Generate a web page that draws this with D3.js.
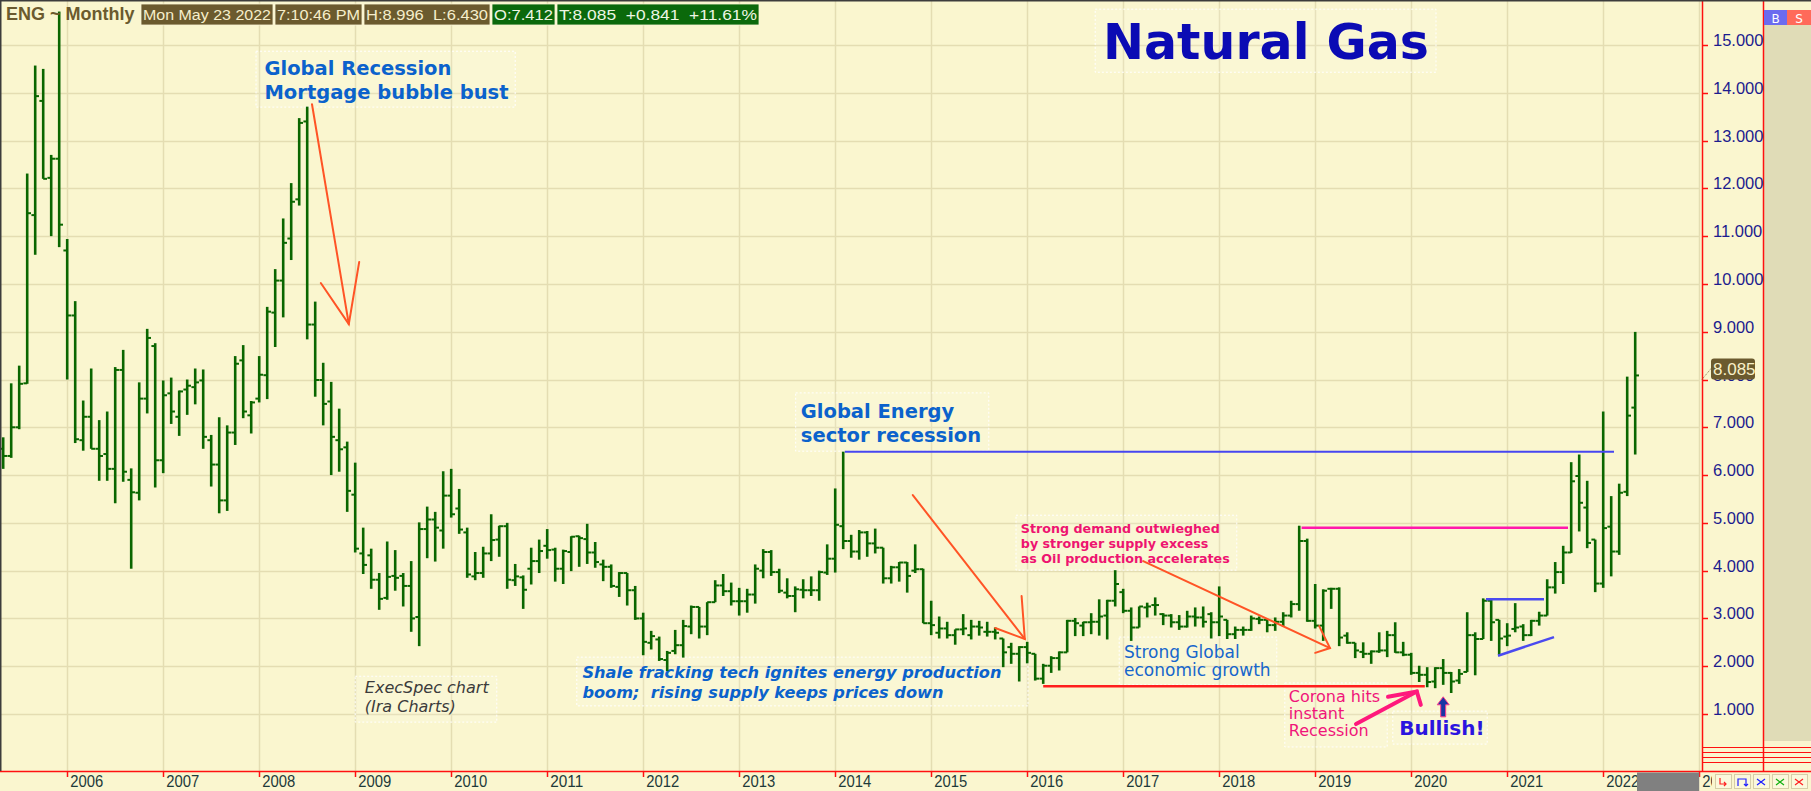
<!DOCTYPE html>
<html>
<head>
<meta charset="utf-8">
<script src="https://cdn.jsdelivr.net/npm/d3@7"></script>
<style>
  html, body { margin: 0; padding: 0; background: #faf6cf; }
  svg { display: block; }
  text { white-space: pre; }
</style>
</head>
<body>
<div id="chart"></div>
<script>
// ENG monthly bars, first bar = May 2005, last bar = May 2022
var firstYear = 2005, firstMonth = 4;

var open = [
  6.55, 6.40, 7.00, 7.92, 11.44, 13.83, 12.22, 12.62,
  10.70, 9.34, 6.73, 7.22, 6.55, 6.44, 6.13, 8.20, 5.90, 5.63, 7.60, 8.70,
  6.31, 7.71, 7.22, 7.79, 7.84, 7.98, 6.73, 6.22, 5.47, 6.89, 8.40, 7.25,
  7.60, 8.09, 9.40, 10.07, 10.95, 11.77, 13.40, 9.15, 7.99, 7.54, 6.73, 6.58,
  5.59, 4.36, 4.32, 3.81, 3.43, 3.89, 3.89, 3.68, 3.03, 4.87, 5.07, 4.84,
  5.57, 5.30, 4.80, 3.88, 3.95, 4.36, 4.65, 4.93, 3.80, 3.86, 4.04, 4.20,
  4.52, 4.44, 4.04, 4.39, 4.72, 4.66, 4.38, 4.13, 4.08, 3.66, 3.95, 3.59,
  3.00, 2.49, 2.56, 2.13, 2.32, 2.44, 2.83, 3.24, 2.83, 3.34, 3.69, 3.57,
  3.36, 3.36, 3.50, 4.00, 4.39, 3.97, 3.54, 3.47, 3.60, 3.59, 3.59, 3.96,
  4.25, 4.93, 4.62, 4.40, 4.80, 4.57, 4.48, 3.84, 4.07, 4.17, 4.00, 4.03,
  2.90, 2.70, 2.79, 2.65, 2.77, 2.65, 2.83, 2.72, 2.72, 2.58, 2.40, 2.26,
  2.40, 2.26, 1.74, 2.01, 2.17, 2.29, 2.95, 2.85, 2.92, 2.93, 3.06, 3.37,
  3.55, 3.16, 2.81, 3.23, 3.28, 3.09, 3.06, 2.92, 2.83, 3.04, 3.02, 3.09,
  2.92, 2.97, 2.67, 2.76, 2.76, 2.99, 2.97, 2.86, 2.93, 3.06, 3.30, 4.62,
  2.95, 2.85, 3.62, 3.62, 2.64, 2.49, 2.30, 2.26, 2.31, 2.33, 2.65, 2.29,
  2.24, 1.86, 1.82, 1.68, 1.96, 1.86, 1.70, 1.88, 2.65, 2.57, 3.37, 2.97,
  2.62, 2.78, 2.83, 2.65, 2.95, 3.06, 3.65, 3.97, 4.38, 5.98, 5.32, 4.65,
  3.73, 4.92, 4.40, 5.65, 7.412
];
var high = [
  6.79, 7.92, 8.29, 12.31, 14.57, 14.50, 12.70, 15.70,
  10.94, 9.64, 7.56, 8.23, 7.15, 7.33, 8.26, 8.62, 6.14, 7.94, 9.06, 8.76,
  7.98, 8.04, 7.77, 8.00, 8.23, 8.21, 6.84, 7.21, 7.04, 8.49, 8.72, 7.55,
  8.49, 9.52, 10.31, 11.37, 12.11, 13.47, 13.71, 9.63, 8.35, 7.95, 7.39, 6.70,
  6.26, 4.90, 4.46, 3.95, 4.61, 4.43, 3.95, 4.20, 5.01, 5.34, 5.23, 6.08,
  6.13, 5.71, 4.90, 4.39, 4.50, 5.18, 4.94, 5.00, 4.14, 3.90, 4.48, 4.65,
  4.87, 4.48, 4.44, 4.72, 4.73, 4.98, 4.60, 4.23, 4.13, 3.97, 3.95, 3.68,
  3.12, 2.74, 2.62, 2.32, 2.76, 2.97, 3.27, 3.24, 3.34, 3.80, 3.93, 3.75,
  3.64, 3.62, 4.13, 4.45, 4.43, 4.04, 3.84, 3.67, 3.82, 3.88, 4.00, 4.55,
  5.72, 6.49, 4.75, 4.85, 4.83, 4.88, 4.48, 4.10, 4.18, 4.18, 4.55, 4.04,
  3.37, 3.04, 2.93, 2.77, 3.09, 2.97, 2.95, 2.93, 2.81, 2.58, 2.49, 2.42,
  2.51, 2.26, 2.05, 2.21, 2.31, 2.97, 3.01, 2.93, 3.11, 3.40, 3.39, 4.01,
  3.62, 3.23, 3.25, 3.33, 3.44, 3.11, 3.09, 3.07, 3.16, 3.23, 3.25, 3.13,
  3.67, 2.97, 2.83, 2.83, 3.06, 3.04, 2.97, 3.02, 3.13, 3.37, 4.94, 4.67,
  3.72, 3.61, 3.64, 3.65, 2.71, 2.49, 2.50, 2.33, 2.71, 2.74, 2.92, 2.51,
  2.28, 2.01, 1.98, 1.98, 2.15, 1.88, 1.94, 3.13, 2.71, 3.42, 3.42, 2.97,
  2.90, 3.32, 2.88, 2.97, 3.14, 3.82, 4.18, 4.52, 6.27, 6.43, 5.88, 4.65,
  7.33, 5.56, 5.82, 8.06, 8.996
];
var low = [
  6.13, 6.36, 6.96, 7.91, 10.61, 12.20, 11.00, 10.77,
  8.00, 6.67, 6.51, 6.55, 5.88, 5.88, 5.41, 5.86, 4.04, 5.47, 7.29, 5.74,
  6.04, 7.07, 6.82, 7.26, 7.48, 6.55, 5.76, 5.20, 5.25, 6.63, 7.19, 6.87,
  7.52, 7.59, 8.68, 9.30, 10.50, 11.64, 8.84, 7.64, 7.04, 6.00, 6.07, 5.23,
  4.38, 3.93, 3.62, 3.18, 3.39, 3.58, 3.25, 2.72, 2.42, 4.26, 4.19, 4.46,
  5.11, 4.77, 3.85, 3.80, 3.85, 4.20, 4.29, 3.62, 3.68, 3.20, 3.71, 3.95,
  4.25, 3.77, 3.72, 3.99, 4.08, 4.14, 4.06, 3.78, 3.64, 3.45, 3.27, 2.97,
  2.23, 2.35, 2.11, 1.90, 2.25, 2.18, 2.67, 2.58, 2.65, 3.34, 3.47, 3.27,
  3.06, 3.12, 3.31, 3.84, 3.89, 3.53, 3.42, 3.13, 3.42, 3.47, 3.37, 3.91,
  3.96, 4.45, 4.27, 4.23, 4.29, 4.36, 3.73, 3.73, 3.77, 3.54, 3.95, 2.90,
  2.65, 2.58, 2.58, 2.45, 2.65, 2.56, 2.64, 2.62, 2.56, 1.98, 2.05, 1.68,
  2.06, 1.70, 1.63, 1.86, 1.91, 2.29, 2.63, 2.63, 2.67, 2.64, 2.56, 3.25,
  3.11, 2.53, 2.81, 3.02, 3.06, 2.86, 2.81, 2.76, 2.81, 2.83, 2.81, 2.58,
  2.63, 2.57, 2.57, 2.64, 2.74, 2.88, 2.71, 2.74, 2.83, 3.02, 3.16, 2.93,
  2.79, 2.53, 3.20, 2.42, 2.47, 2.17, 2.17, 2.05, 2.28, 2.19, 2.28, 2.21,
  1.82, 1.67, 1.56, 1.54, 1.61, 1.44, 1.63, 1.88, 1.81, 2.57, 2.53, 2.24,
  2.42, 2.71, 2.53, 2.63, 2.85, 3.06, 3.52, 3.72, 4.37, 4.82, 4.47, 3.55,
  3.64, 3.88, 4.33, 5.56, 6.430
];
var close = [
  6.40, 7.00, 7.91, 11.48, 13.93, 12.20, 12.62, 11.24,
  9.34, 6.75, 7.22, 6.55, 6.40, 6.13, 8.20, 6.07, 5.64, 7.60, 8.87, 6.31,
  7.67, 7.33, 7.75, 7.87, 7.94, 6.80, 6.22, 5.47, 6.89, 8.33, 7.33, 7.52,
  8.10, 9.42, 10.07, 10.86, 11.72, 13.37, 9.15, 7.99, 7.49, 6.80, 6.54, 5.67,
  4.46, 4.12, 3.81, 3.41, 3.87, 3.85, 3.68, 3.00, 4.87, 5.07, 4.90, 5.57,
  5.18, 4.86, 3.92, 3.95, 4.36, 4.64, 4.93, 3.81, 3.88, 3.60, 4.20, 4.41,
  4.43, 4.04, 4.41, 4.71, 4.68, 4.38, 4.18, 4.08, 3.68, 3.95, 3.59, 3.00,
  2.51, 2.63, 2.15, 2.28, 2.44, 2.84, 3.24, 2.83, 3.34, 3.69, 3.57, 3.36,
  3.36, 3.50, 4.04, 4.39, 3.97, 3.58, 3.47, 3.61, 3.59, 3.59, 3.97, 4.25,
  4.96, 4.62, 4.40, 4.80, 4.57, 4.48, 3.84, 4.07, 4.17, 3.89, 4.03, 2.90,
  2.86, 2.79, 2.65, 2.77, 2.79, 2.83, 2.81, 2.72, 2.70, 2.29, 2.26, 2.40,
  2.28, 1.74, 2.01, 2.17, 2.29, 2.95, 2.90, 2.92, 2.93, 3.04, 3.37, 3.72,
  3.16, 2.81, 3.25, 3.25, 3.28, 3.06, 2.92, 2.83, 3.04, 3.02, 2.93, 2.92,
  3.04, 2.67, 2.76, 2.76, 3.00, 2.97, 2.86, 2.93, 3.06, 3.30, 4.62, 2.95,
  2.85, 3.58, 3.62, 2.60, 2.49, 2.33, 2.26, 2.31, 2.33, 2.65, 2.29, 2.24,
  1.86, 1.82, 1.67, 1.96, 1.86, 1.68, 1.84, 2.65, 2.57, 3.37, 2.92, 2.58,
  2.64, 2.81, 2.65, 2.95, 3.06, 3.65, 3.97, 4.38, 5.87, 5.42, 4.58, 3.73,
  4.89, 4.40, 5.63, 7.244, 8.085
];

var yearLabels = ["2006", "2007", "2008", "2009", "2010", "2011", "2012", "2013", "2014",
                  "2015", "2016", "2017", "2018", "2019", "2020", "2021", "2022", "2023"];
var priceTicks = [1, 2, 3, 4, 5, 6, 7, 8, 9, 10, 11, 12, 13, 14, 15];

// drawn lines, in (months since Jan 2006, price)
var levels = [
  {pts: [[97.2, 6.49], [193.35, 6.49]], color: "#4646f0", w: 2},
  {pts: [[154.3, 4.90], [187.6, 4.90]], color: "#ff18ac", w: 2.5},
  {pts: [[122, 1.58], [169.7, 1.58]], color: "#ff1e1e", w: 2.5},
  {pts: [[177.35, 3.40], [184.6, 3.40]], color: "#4a4af0", w: 2.5},
  {pts: [[178.85, 2.22], [185.85, 2.61]], color: "#4a4af0", w: 2.5}
];
var arrows = [
  {pts: [[30.6, 13.76], [35.2, 9.16]], head: [[31.7, 10.02], [35.2, 9.16], [36.5, 10.46]], color: "#ff5426", w: 2},
  {pts: [[105.7, 5.58], [119.7, 2.57]], head: [[116.0, 2.80], [119.7, 2.57], [119.3, 3.47]], color: "#ff5426", w: 2},
  {pts: [[134.5, 4.20], [157.85, 2.38]], head: [[156.5, 2.84], [157.85, 2.38], [156.0, 2.28]], color: "#ff5426", w: 2},
  {pts: [[161.1, 0.79], [168.7, 1.47]], head: [[165.1, 1.36], [168.7, 1.47], [169.2, 1.19]], color: "#ff187c", w: 4}
];
var notes = [
  {box: [23.6, 14.87, 56.0, 13.70], tx: 24.66, rows: [["Global Recession", 14.37], ["Mortgage bubble bust", 13.87]], cls: "recess"},
  {box: [128.5, 15.75, 171.1, 14.43], tx: 149.85, mid: true, rows: [["Natural Gas", 14.70]], cls: "title"},
  {box: [91.06, 7.72, 115.2, 6.50], tx: 91.7, rows: [["Global Energy", 7.20], ["sector recession", 6.70]], cls: "recess"},
  {box: [36.0, 1.79, 53.7, 0.83], tx: 37.2, rows: [["ExecSpec chart", 1.43], ["(Ira Charts)", 1.05]], cls: "credit"},
  {box: [63.7, 2.19, 120.1, 1.17], tx: 64.4, rows: [["Shale fracking tech ignites energy production", 1.76], ["boom;  rising supply keeps prices down", 1.34]], cls: "shale"},
  {box: [118.6, 5.16, 146.2, 4.01], tx: 119.2, rows: [["Strong demand outwieghed", 4.79], ["by stronger supply excess", 4.48], ["as Oil production accelerates", 4.17]], cls: "demand"},
  {box: [131.5, 2.61, 151.2, 1.61], tx: 132.1, rows: [["Strong Global", 2.18], ["economic growth", 1.80]], cls: "growth"},
  {box: [152.2, 1.65, 165.0, 0.31], tx: 152.7, rows: [["Corona hits", 1.26], ["instant", 0.90], ["Recession", 0.53]], cls: "corona"},
  {box: [165.7, 1.06, 177.5, 0.37], tx: 166.5, rows: [["Bullish!", 0.56]], cls: "bull"}
];

var noteStyle = {
  recess: {size: 19.5, weight: "bold", italic: false, color: "#0b62cc"},
  title:  {size: 49, weight: "bold", italic: false, color: "#0b0bb4"},
  credit: {size: 16, weight: "normal", italic: true, color: "#3c3c3c"},
  shale:  {size: 16.2, weight: "bold", italic: true, color: "#0b62cc"},
  demand: {size: 12.7, weight: "bold", italic: false, color: "#ee1470"},
  growth: {size: 17, weight: "normal", italic: false, color: "#1666cc"},
  corona: {size: 16, weight: "normal", italic: false, color: "#f0157a"},
  bull:   {size: 20, weight: "bold", italic: false, color: "#2b14df"}
};

var width = 1811, height = 791,
    axisX = 1702, panelX = 1763, axisY = 771,
    bg = "#faf6cf", grid = "#e4ddb2", red = "#ff1010",
    barColor = "#0a6600",
    sans = "Liberation Sans, Arial, sans-serif";

var svg = d3.select("#chart").append("svg")
    .attr("width", width)
    .attr("height", height);

// months since Jan 2006 -> px, 8px a month
var x = d3.scaleLinear().domain([0, 204]).range([67.2, 1699.2]);
var y = d3.scaleLinear().domain([1, 15]).range([714, 45]);

var t0 = (firstYear - 2006) * 12 + firstMonth;
var bars = open.map(function(o, i) {
  return {t: t0 + i, o: o, h: high[i], l: low[i], c: close[i]};
});

svg.append("rect").attr("width", width).attr("height", height).attr("fill", bg);

// right side panel
svg.append("rect").attr("x", panelX).attr("y", 25).attr("width", width - panelX).attr("height", 741 - 25)
    .attr("fill", "#e0dcb7");

// grid
var g = svg.append("g");
g.selectAll(".hg").data(priceTicks).enter().append("line")
    .attr("x1", 0).attr("x2", axisX - 2)
    .attr("y1", function(d) { return Math.round(y(d)) + 0.5; })
    .attr("y2", function(d) { return Math.round(y(d)) + 0.5; })
    .attr("stroke", grid).attr("stroke-width", 1.5);
g.selectAll(".vg").data(yearLabels).enter().append("line")
    .attr("x1", function(d) { return Math.round(x((+d - 2006) * 12)) + 0.5; })
    .attr("x2", function(d) { return Math.round(x((+d - 2006) * 12)) + 0.5; })
    .attr("y1", 0).attr("y2", axisY)
    .attr("stroke", grid).attr("stroke-width", 1.5);

// annotation boxes + texts
var line = d3.line().x(function(d) { return x(d[0]); }).y(function(d) { return y(d[1]); });

notes.forEach(function(n) {
  var s = noteStyle[n.cls];
  svg.append("rect")
      .attr("x", x(n.box[0])).attr("y", y(n.box[1]))
      .attr("width", x(n.box[2]) - x(n.box[0]))
      .attr("height", y(n.box[3]) - y(n.box[1]))
      .attr("fill", "rgba(255,255,255,0.12)")
      .attr("stroke", "#ffffff").attr("stroke-width", 1)
      .attr("stroke-dasharray", "2,2");
  n.rows.forEach(function(r) {
    svg.append("text")
        .attr("x", x(n.tx)).attr("y", y(r[1]))
        .attr("text-anchor", n.mid ? "middle" : "start")
        .attr("font-family", "DejaVu Sans")
        .attr("font-size", s.size)
        .attr("font-weight", s.weight)
        .attr("font-style", s.italic ? "italic" : "normal")
        .attr("fill", s.color)
        .text(r[0]);
  });
});

// bars
var bg2 = svg.append("g").attr("stroke", barColor);
bg2.selectAll(".hl").data(bars).enter().append("line")
    .attr("x1", function(d) { return x(d.t); })
    .attr("x2", function(d) { return x(d.t); })
    .attr("y1", function(d) { return y(d.h); })
    .attr("y2", function(d) { return y(d.l); })
    .attr("stroke-width", 2.6);
bg2.selectAll(".op").data(bars).enter().append("line")
    .attr("x1", function(d) { return x(d.t) - 3.8; })
    .attr("x2", function(d) { return x(d.t); })
    .attr("y1", function(d) { return y(d.o); })
    .attr("y2", function(d) { return y(d.o); })
    .attr("stroke-width", 2);
bg2.selectAll(".cl").data(bars).enter().append("line")
    .attr("x1", function(d) { return x(d.t); })
    .attr("x2", function(d) { return x(d.t) + 3.8; })
    .attr("y1", function(d) { return y(d.c); })
    .attr("y2", function(d) { return y(d.c); })
    .attr("stroke-width", 2);

// drawn levels and arrows
levels.forEach(function(l) {
  svg.append("path").attr("d", line(l.pts)).attr("fill", "none")
      .attr("stroke", l.color).attr("stroke-width", l.w);
});
arrows.forEach(function(a) {
  svg.append("path").attr("d", line(a.pts)).attr("fill", "none")
      .attr("stroke", a.color).attr("stroke-width", a.w).attr("stroke-linecap", "round");
  svg.append("path").attr("d", line(a.head)).attr("fill", "none")
      .attr("stroke", a.color).attr("stroke-width", a.w)
      .attr("stroke-linecap", "round").attr("stroke-linejoin", "miter");
});

// "Bullish" up arrow under the May 2020 bar
var bx = x(172), by = y(1.36), bl = y(0.94) - by;
svg.append("path")
    .attr("d", "M" + bx + "," + by + " l6,8 h-3.5 v" + (bl - 8) + " h-5 v" + (8 - bl) + " h-3.5 z")
    .attr("fill", "#1a36a4").attr("stroke", "#ff3a8c").attr("stroke-width", 1);

// price axis
svg.append("line").attr("x1", axisX + 0.5).attr("x2", axisX + 0.5).attr("y1", 0).attr("y2", axisY)
    .attr("stroke", red).attr("stroke-width", 1.5);
svg.append("line").attr("x1", panelX + 0.5).attr("x2", panelX + 0.5).attr("y1", 0).attr("y2", axisY)
    .attr("stroke", red).attr("stroke-width", 1.5);
svg.selectAll(".pt").data(priceTicks).enter().append("line")
    .attr("x1", axisX).attr("x2", axisX + 6)
    .attr("y1", function(d) { return Math.round(y(d)) + 0.5; })
    .attr("y2", function(d) { return Math.round(y(d)) + 0.5; })
    .attr("stroke", red).attr("stroke-width", 1.5);
svg.selectAll(".pl").data(priceTicks).enter().append("text")
    .attr("x", axisX + 11)
    .attr("y", function(d) { return y(d) + 1; })
    .attr("font-family", sans)
    .attr("font-size", 16.5)
    .attr("fill", "#1c1c8e")
    .text(function(d) { return d3.format(".3f")(d); });

[747, 752, 757, 762].forEach(function(yy) {
  svg.append("line").attr("x1", axisX).attr("x2", width).attr("y1", yy + 0.5).attr("y2", yy + 0.5)
      .attr("stroke", red).attr("stroke-width", 1.2);
});

// last price tag
var last = bars[bars.length - 1], ly = y(last.c);
svg.append("line").attr("x1", axisX).attr("y1", ly + 4).attr("x2", axisX + 10).attr("y2", ly - 8)
    .attr("stroke", "#6b5a2e").attr("stroke-width", 0.8).attr("stroke-dasharray", "1,1");
svg.append("rect").attr("x", axisX + 9).attr("y", ly - 17).attr("width", 44).attr("height", 21).attr("rx", 3)
    .attr("fill", "#6b5a2e");
svg.append("text").attr("x", axisX + 11).attr("y", ly - 0.5)
    .attr("font-family", sans).attr("font-size", 17)
    .attr("fill", "#f8f0c8").text(d3.format(".3f")(last.c));

// time axis
svg.append("line").attr("x1", 0).attr("x2", width).attr("y1", axisY + 0.5).attr("y2", axisY + 0.5)
    .attr("stroke", red).attr("stroke-width", 1.5);
svg.selectAll(".yt").data(yearLabels).enter().append("line")
    .attr("x1", function(d) { return Math.round(x((+d - 2006) * 12)) + 0.5; })
    .attr("x2", function(d) { return Math.round(x((+d - 2006) * 12)) + 0.5; })
    .attr("y1", axisY).attr("y2", axisY + 6)
    .attr("stroke", red).attr("stroke-width", 1.5);
svg.selectAll(".yl").data(yearLabels.slice(0, -1)).enter().append("text")
    .attr("x", function(d) { return x((+d - 2006) * 12) + 3; })
    .attr("y", 787)
    .attr("font-family", sans)
    .attr("font-size", 17)
    .attr("textLength", 33)
    .attr("lengthAdjust", "spacingAndGlyphs")
    .attr("fill", "#1e3a3a")
    .text(function(d) { return d; });

svg.append("rect").attr("x", 1637).attr("y", axisY + 1.5).attr("width", x(204) - 1637).attr("height", height - axisY)
    .attr("fill", "#808080");

// 2023 label shows only its first digits before the buttons
svg.append("clipPath").attr("id", "cut").append("rect")
    .attr("x", x(204)).attr("y", axisY).attr("width", 1712 - x(204)).attr("height", height - axisY);
svg.append("text").attr("clip-path", "url(#cut)")
    .attr("x", x(204) + 3).attr("y", 787)
    .attr("font-family", sans).attr("font-size", 17)
    .attr("textLength", 33).attr("lengthAdjust", "spacingAndGlyphs")
    .attr("fill", "#1e3a3a").text(yearLabels[yearLabels.length - 1]);

// little buttons bottom right
var btnColors = ["#ff2020", "#2020ff", "#2020ff", "#10b010", "#ff2020"];
btnColors.forEach(function(c, i) {
  var bx0 = 1715 + i * 19;
  svg.append("rect").attr("x", bx0 + 0.5).attr("y", 774.5).attr("width", 16).attr("height", 14)
      .attr("fill", "#fbf8dc").attr("stroke", "#d6cea8");
  var p;
  if (i == 0) p = "M" + (bx0 + 5) + ",778 v6 h6 m-2,-2 l2,2 l-2,2";
  else if (i == 1) p = "M" + (bx0 + 4) + ",786 v-7 h8 v7 m-2,-2 l2,2 l2,-2";
  else p = "M" + (bx0 + 4) + ",779 l4,3 l-4,3 m8,-6 l-4,3 l4,3";
  svg.append("path").attr("d", p).attr("fill", "none").attr("stroke", c).attr("stroke-width", 1.2);
});

// B / S
svg.append("rect").attr("x", panelX + 1).attr("y", 10).attr("width", 23).attr("height", 15).attr("fill", "#6b6bef");
svg.append("rect").attr("x", panelX + 24).attr("y", 10).attr("width", 24).attr("height", 15).attr("fill", "#ff6a5a");
svg.append("text").attr("x", panelX + 12.5).attr("y", 22.5).attr("text-anchor", "middle")
    .attr("font-family", "DejaVu Sans").attr("font-size", 12).attr("fill", "#fff").text("B");
svg.append("text").attr("x", panelX + 36).attr("y", 22.5).attr("text-anchor", "middle")
    .attr("font-family", "DejaVu Sans").attr("font-size", 12).attr("fill", "#fff").text("S");

// header strip
var prev = close[close.length - 2], chg = last.c - prev;
var fmt = d3.format(".3f");
var header = [
  {text: "Mon May 23 2022", x0: 141, x1: 273, fill: "#6b5a2e", color: "#f6eecb"},
  {text: "7:10:46 PM", x0: 275, x1: 362, fill: "#6b5a2e", color: "#f6eecb"},
  {text: "H:" + fmt(last.h) + "  L:" + fmt(last.l), x0: 364, x1: 490, fill: "#6b5a2e", color: "#f6eecb"},
  {text: "O:" + fmt(last.o), x0: 492, x1: 555, fill: "#0b690b", color: "#eef6e4"},
  {text: "T:" + fmt(last.c) + "  +" + fmt(chg) + "  +" + d3.format(".2f")(chg / prev * 100) + "%", x0: 557, x1: 759, fill: "#0b690b", color: "#eef6e4"}
];
svg.append("text").attr("x", 6).attr("y", 20)
    .attr("font-family", sans).attr("font-weight", "bold")
    .attr("font-size", 18).attr("fill", "#6b5a2e").text("ENG ~ Monthly");
header.forEach(function(h) {
  svg.append("rect").attr("x", h.x0).attr("y", 4).attr("width", h.x1 - h.x0).attr("height", 21)
      .attr("fill", h.fill).attr("stroke", "#fbf6d6").attr("stroke-width", 0.8);
  svg.append("text").attr("x", h.x0 + 2).attr("y", 20)
      .attr("font-family", sans)
      .attr("font-size", 15.5)
      .attr("textLength", h.x1 - h.x0 - 4)
      .attr("lengthAdjust", "spacingAndGlyphs")
      .attr("fill", h.color).text(h.text);
});

// frame
svg.append("line").attr("x1", 0).attr("x2", width).attr("y1", 0.75).attr("y2", 0.75)
    .attr("stroke", "#3c3c3c").attr("stroke-width", 1.5);
svg.append("line").attr("x1", 0.75).attr("x2", 0.75).attr("y1", 0).attr("y2", axisY)
    .attr("stroke", "#3c3c3c").attr("stroke-width", 1.5);
</script>
</body>
</html>
